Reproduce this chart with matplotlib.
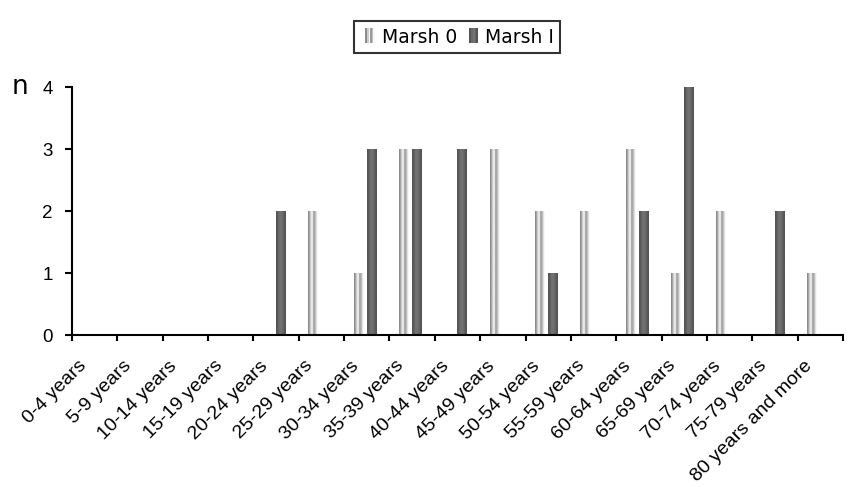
import numpy as np
import matplotlib
matplotlib.use("Agg")
from matplotlib import pyplot as plt
from matplotlib.patches import Rectangle
from matplotlib.legend_handler import HandlerBase
from matplotlib.transforms import ScaledTranslation

# Data
age_groups = ['0-4 years', '5-9 years', '10-14 years', '15-19 years', '20-24 years',
              '25-29 years', '30-34 years', '35-39 years', '40-44 years', '45-49 years',
              '50-54 years', '55-59 years', '60-64 years', '65-69 years', '70-74 years',
              '75-79 years', '80 years and more']
marsh_0 = [0, 0, 0, 0, 0, 2, 1, 3, 0, 3, 2, 2, 3, 1, 2, 0, 1]
marsh_1 = [0, 0, 0, 0, 2, 0, 3, 3, 3, 0, 1, 0, 2, 4, 0, 2, 0]

# stripe shades (grey level 0..1) used to fake the Excel gradient fill
light_shades = [0.55, 0.8, 0.98, 0.6, 0.75, 0.97]
dark_shades = [0.33, 0.42, 0.45, 0.4, 0.33]

plt.rcParams['font.family'] = ['Liberation Sans', 'DejaVu Sans']

fig = plt.figure(figsize=(8.51, 4.87), dpi=100)
ax = fig.add_axes([0.0846, 0.312, 0.906, 0.509])

x = np.arange(len(age_groups))
w = 0.22
bars0 = ax.bar(x - 0.18, marsh_0, width=w, color='none', edgecolor='none', label='Marsh 0')
bars1 = ax.bar(x + 0.11, marsh_1, width=w, color='none', edgecolor='none', label='Marsh I')


def fill_gradient(bars, shades):
    grad = np.array(shades)[np.newaxis, :]
    for b in bars:
        h = b.get_height()
        if h <= 0:
            continue
        x0 = b.get_x()
        ax.imshow(grad, cmap='gray', vmin=0, vmax=1, aspect='auto',
                  interpolation='bilinear',
                  extent=[x0, x0 + b.get_width(), 0, h], zorder=2)


fill_gradient(bars0, light_shades)
fill_gradient(bars1, dark_shades)

ax.set_xlim(-0.5, len(age_groups) - 0.5)
ax.set_ylim(0, 4)

# axes styling
for s in ['top', 'right']:
    ax.spines[s].set_visible(False)
ax.spines['left'].set_linewidth(1.5)
ax.spines['bottom'].set_linewidth(1.5)

ax.set_yticks([0, 1, 2, 3, 4])
ax.tick_params(axis='y', length=5, width=1.5, pad=9)
for lab in ax.get_yticklabels():
    lab.set_fontsize(13.5)
    lab.set_family('Liberation Sans')

ax.set_xticks(x)
ax.set_xticklabels(age_groups, rotation=45, ha='right', va='top',
                   rotation_mode='anchor', fontsize=14, family='Liberation Sans')
ax.set_xticks(np.arange(len(age_groups) + 1) - 0.5, minor=True)
ax.tick_params(axis='x', which='major', length=0, pad=16)
ax.tick_params(axis='x', which='minor', length=4, width=1.5)
shift = ScaledTranslation(-17 / 100, 0, fig.dpi_scale_trans)
for lab in ax.get_xticklabels():
    lab.set_transform(lab.get_transform() + shift)

fig.text(0.014, 0.822, 'n', fontsize=19, va='center', ha='left', family='DejaVu Sans')


class StripeHandler(HandlerBase):
    def __init__(self, shades):
        super().__init__()
        self.shades = shades

    def create_artists(self, legend, orig_handle, xdescent, ydescent,
                       width, height, fontsize, trans):
        n = len(self.shades)
        bw = height * 0.75
        x0 = -xdescent + width - bw
        arts = []
        for i, s in enumerate(self.shades):
            arts.append(Rectangle((x0 + i * bw / n, -ydescent), bw / n, height * 1.1,
                                  facecolor=str(s), edgecolor='none', transform=trans))
        return arts


leg = fig.legend([bars0, bars1], ['Marsh 0', 'Marsh I'], loc='center',
                 bbox_to_anchor=(0.537, 0.924), ncol=2, frameon=True, fancybox=False,
                 edgecolor='black', fontsize=13.5, handlelength=0.8, handletextpad=0.35,
                 columnspacing=0.35, borderpad=0.35,
                 handler_map={bars0: StripeHandler(light_shades),
                              bars1: StripeHandler(dark_shades)})
leg.get_frame().set_linewidth(1.5)
for t in leg.get_texts():
    t.set_family('DejaVu Sans Condensed')

fig.savefig('out.png', dpi=100)
